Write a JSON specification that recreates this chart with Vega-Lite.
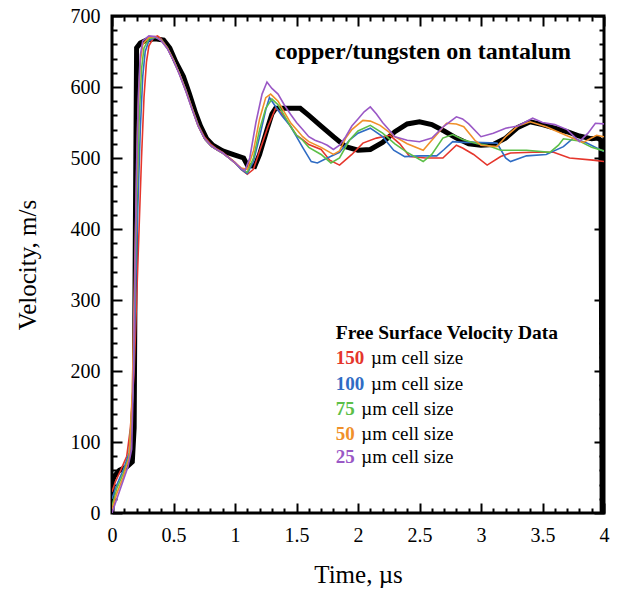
{
  "$schema": "https://vega.github.io/schema/vega-lite/v6.json",
  "width": 492,
  "height": 497,
  "autosize": "none",
  "padding": {"left": 112, "top": 16, "right": 13, "bottom": 78},
  "background": "white",
  "config": {
    "view": {"stroke": "black", "strokeWidth": 3},
    "font": "Liberation Serif"
  },
  "datasets": {
    "curves": [
      {"s":"exp","t":0,"v":0},{"s":"exp","t":0.003,"v":45},{"s":"exp","t":0.02,"v":52},{"s":"exp","t":0.06,"v":60},{"s":"exp","t":0.12,"v":65},{"s":"exp","t":0.165,"v":72},{"s":"exp","t":0.18,"v":120},{"s":"exp","t":0.19,"v":400},{"s":"exp","t":0.2,"v":655},{"s":"exp","t":0.23,"v":662},{"s":"exp","t":0.28,"v":666},{"s":"exp","t":0.35,"v":668},{"s":"exp","t":0.42,"v":666},{"s":"exp","t":0.47,"v":655},{"s":"exp","t":0.52,"v":635},{"s":"exp","t":0.58,"v":615},{"s":"exp","t":0.63,"v":590},{"s":"exp","t":0.68,"v":563},{"s":"exp","t":0.72,"v":545},{"s":"exp","t":0.77,"v":527},{"s":"exp","t":0.82,"v":518},{"s":"exp","t":0.9,"v":510},{"s":"exp","t":1.0,"v":504},{"s":"exp","t":1.07,"v":500},{"s":"exp","t":1.1,"v":490},{"s":"exp","t":1.16,"v":488},{"s":"exp","t":1.2,"v":505},{"s":"exp","t":1.26,"v":540},{"s":"exp","t":1.3,"v":562},{"s":"exp","t":1.33,"v":570},{"s":"exp","t":1.45,"v":570},{"s":"exp","t":1.53,"v":570},{"s":"exp","t":1.6,"v":560},{"s":"exp","t":1.7,"v":545},{"s":"exp","t":1.8,"v":530},{"s":"exp","t":1.9,"v":516},{"s":"exp","t":2.0,"v":511},{"s":"exp","t":2.1,"v":512},{"s":"exp","t":2.2,"v":522},{"s":"exp","t":2.3,"v":537},{"s":"exp","t":2.4,"v":548},{"s":"exp","t":2.5,"v":551},{"s":"exp","t":2.6,"v":547},{"s":"exp","t":2.7,"v":538},{"s":"exp","t":2.8,"v":528},{"s":"exp","t":2.9,"v":520},{"s":"exp","t":3.0,"v":518},{"s":"exp","t":3.1,"v":519},{"s":"exp","t":3.2,"v":528},{"s":"exp","t":3.3,"v":543},{"s":"exp","t":3.4,"v":551},{"s":"exp","t":3.5,"v":547},{"s":"exp","t":3.6,"v":542},{"s":"exp","t":3.7,"v":537},{"s":"exp","t":3.8,"v":531},{"s":"exp","t":3.9,"v":527},{"s":"exp","t":3.95,"v":528},{"s":"exp","t":3.975,"v":525},{"s":"exp","t":3.985,"v":0},

      {"s":"150","t":0,"v":30},{"s":"150","t":0.03,"v":45},{"s":"150","t":0.07,"v":60},{"s":"150","t":0.12,"v":80},{"s":"150","t":0.15,"v":120},{"s":"150","t":0.18,"v":200},{"s":"150","t":0.2,"v":300},{"s":"150","t":0.22,"v":400},{"s":"150","t":0.24,"v":500},{"s":"150","t":0.26,"v":585},{"s":"150","t":0.28,"v":635},{"s":"150","t":0.3,"v":658},{"s":"150","t":0.34,"v":670},{"s":"150","t":0.37,"v":672},{"s":"150","t":0.4,"v":668},{"s":"150","t":0.45,"v":655},{"s":"150","t":0.5,"v":638},{"s":"150","t":0.55,"v":618},{"s":"150","t":0.6,"v":596},{"s":"150","t":0.65,"v":571},{"s":"150","t":0.7,"v":547},{"s":"150","t":0.75,"v":530},{"s":"150","t":0.8,"v":520},{"s":"150","t":0.85,"v":513},{"s":"150","t":0.9,"v":508},{"s":"150","t":0.95,"v":501},{"s":"150","t":1.0,"v":494},{"s":"150","t":1.05,"v":484},{"s":"150","t":1.1,"v":477},{"s":"150","t":1.15,"v":484},{"s":"150","t":1.2,"v":510},{"s":"150","t":1.27,"v":545},{"s":"150","t":1.33,"v":570},{"s":"150","t":1.38,"v":563},{"s":"150","t":1.45,"v":545},{"s":"150","t":1.5,"v":532},{"s":"150","t":1.55,"v":526},{"s":"150","t":1.6,"v":519},{"s":"150","t":1.7,"v":512},{"s":"150","t":1.77,"v":497},{"s":"150","t":1.85,"v":490},{"s":"150","t":1.95,"v":505},{"s":"150","t":2.04,"v":521},{"s":"150","t":2.15,"v":528},{"s":"150","t":2.26,"v":532},{"s":"150","t":2.34,"v":520},{"s":"150","t":2.42,"v":502},{"s":"150","t":2.55,"v":500},{"s":"150","t":2.69,"v":500},{"s":"150","t":2.8,"v":518},{"s":"150","t":2.85,"v":514},{"s":"150","t":2.94,"v":505},{"s":"150","t":3.05,"v":490},{"s":"150","t":3.16,"v":502},{"s":"150","t":3.24,"v":507},{"s":"150","t":3.42,"v":508},{"s":"150","t":3.59,"v":508},{"s":"150","t":3.72,"v":500},{"s":"150","t":3.91,"v":497},{"s":"150","t":4.0,"v":495},

      {"s":"100","t":0,"v":20},{"s":"100","t":0.04,"v":40},{"s":"100","t":0.09,"v":60},{"s":"100","t":0.14,"v":85},{"s":"100","t":0.17,"v":170},{"s":"100","t":0.19,"v":300},{"s":"100","t":0.21,"v":430},{"s":"100","t":0.23,"v":540},{"s":"100","t":0.25,"v":615},{"s":"100","t":0.27,"v":650},{"s":"100","t":0.3,"v":665},{"s":"100","t":0.35,"v":670},{"s":"100","t":0.4,"v":667},{"s":"100","t":0.45,"v":655},{"s":"100","t":0.5,"v":638},{"s":"100","t":0.55,"v":618},{"s":"100","t":0.6,"v":596},{"s":"100","t":0.65,"v":570},{"s":"100","t":0.7,"v":546},{"s":"100","t":0.75,"v":528},{"s":"100","t":0.8,"v":518},{"s":"100","t":0.85,"v":512},{"s":"100","t":0.9,"v":507},{"s":"100","t":0.95,"v":500},{"s":"100","t":1.0,"v":493},{"s":"100","t":1.05,"v":484},{"s":"100","t":1.1,"v":478},{"s":"100","t":1.15,"v":495},{"s":"100","t":1.2,"v":530},{"s":"100","t":1.25,"v":568},{"s":"100","t":1.28,"v":585},{"s":"100","t":1.32,"v":575},{"s":"100","t":1.38,"v":560},{"s":"100","t":1.45,"v":545},{"s":"100","t":1.5,"v":530},{"s":"100","t":1.55,"v":515},{"s":"100","t":1.62,"v":495},{"s":"100","t":1.67,"v":493},{"s":"100","t":1.75,"v":500},{"s":"100","t":1.85,"v":508},{"s":"100","t":1.93,"v":525},{"s":"100","t":2.0,"v":535},{"s":"100","t":2.1,"v":542},{"s":"100","t":2.2,"v":530},{"s":"100","t":2.29,"v":511},{"s":"100","t":2.38,"v":502},{"s":"100","t":2.5,"v":503},{"s":"100","t":2.64,"v":503},{"s":"100","t":2.7,"v":512},{"s":"100","t":2.77,"v":523},{"s":"100","t":2.85,"v":522},{"s":"100","t":2.95,"v":522},{"s":"100","t":3.13,"v":521},{"s":"100","t":3.2,"v":500},{"s":"100","t":3.24,"v":495},{"s":"100","t":3.37,"v":503},{"s":"100","t":3.53,"v":505},{"s":"100","t":3.67,"v":516},{"s":"100","t":3.75,"v":528},{"s":"100","t":3.86,"v":521},{"s":"100","t":4.0,"v":509},

      {"s":"75","t":0,"v":10},{"s":"75","t":0.04,"v":35},{"s":"75","t":0.09,"v":55},{"s":"75","t":0.14,"v":80},{"s":"75","t":0.17,"v":170},{"s":"75","t":0.185,"v":300},{"s":"75","t":0.2,"v":430},{"s":"75","t":0.22,"v":550},{"s":"75","t":0.24,"v":625},{"s":"75","t":0.26,"v":655},{"s":"75","t":0.3,"v":668},{"s":"75","t":0.35,"v":670},{"s":"75","t":0.4,"v":666},{"s":"75","t":0.45,"v":655},{"s":"75","t":0.5,"v":638},{"s":"75","t":0.55,"v":618},{"s":"75","t":0.6,"v":595},{"s":"75","t":0.65,"v":570},{"s":"75","t":0.7,"v":546},{"s":"75","t":0.75,"v":528},{"s":"75","t":0.8,"v":518},{"s":"75","t":0.85,"v":512},{"s":"75","t":0.9,"v":507},{"s":"75","t":0.95,"v":500},{"s":"75","t":1.0,"v":493},{"s":"75","t":1.05,"v":485},{"s":"75","t":1.1,"v":480},{"s":"75","t":1.15,"v":500},{"s":"75","t":1.2,"v":540},{"s":"75","t":1.25,"v":570},{"s":"75","t":1.3,"v":583},{"s":"75","t":1.35,"v":575},{"s":"75","t":1.4,"v":560},{"s":"75","t":1.45,"v":545},{"s":"75","t":1.5,"v":532},{"s":"75","t":1.55,"v":525},{"s":"75","t":1.6,"v":515},{"s":"75","t":1.7,"v":505},{"s":"75","t":1.78,"v":493},{"s":"75","t":1.85,"v":500},{"s":"75","t":1.93,"v":525},{"s":"75","t":2.0,"v":538},{"s":"75","t":2.1,"v":546},{"s":"75","t":2.2,"v":535},{"s":"75","t":2.3,"v":520},{"s":"75","t":2.4,"v":508},{"s":"75","t":2.53,"v":495},{"s":"75","t":2.6,"v":505},{"s":"75","t":2.69,"v":528},{"s":"75","t":2.77,"v":533},{"s":"75","t":2.85,"v":526},{"s":"75","t":2.97,"v":520},{"s":"75","t":3.05,"v":518},{"s":"75","t":3.16,"v":511},{"s":"75","t":3.37,"v":511},{"s":"75","t":3.56,"v":508},{"s":"75","t":3.63,"v":518},{"s":"75","t":3.67,"v":527},{"s":"75","t":3.8,"v":524},{"s":"75","t":3.9,"v":515},{"s":"75","t":4.0,"v":510},

      {"s":"50","t":0,"v":5},{"s":"50","t":0.04,"v":28},{"s":"50","t":0.09,"v":50},{"s":"50","t":0.14,"v":78},{"s":"50","t":0.165,"v":170},{"s":"50","t":0.18,"v":300},{"s":"50","t":0.195,"v":430},{"s":"50","t":0.21,"v":560},{"s":"50","t":0.23,"v":635},{"s":"50","t":0.25,"v":660},{"s":"50","t":0.3,"v":670},{"s":"50","t":0.35,"v":671},{"s":"50","t":0.4,"v":666},{"s":"50","t":0.45,"v":655},{"s":"50","t":0.5,"v":638},{"s":"50","t":0.55,"v":618},{"s":"50","t":0.6,"v":595},{"s":"50","t":0.65,"v":570},{"s":"50","t":0.7,"v":545},{"s":"50","t":0.75,"v":528},{"s":"50","t":0.8,"v":518},{"s":"50","t":0.85,"v":512},{"s":"50","t":0.9,"v":507},{"s":"50","t":0.95,"v":500},{"s":"50","t":1.0,"v":493},{"s":"50","t":1.05,"v":486},{"s":"50","t":1.1,"v":484},{"s":"50","t":1.15,"v":510},{"s":"50","t":1.2,"v":555},{"s":"50","t":1.25,"v":585},{"s":"50","t":1.29,"v":590},{"s":"50","t":1.35,"v":580},{"s":"50","t":1.4,"v":565},{"s":"50","t":1.45,"v":550},{"s":"50","t":1.5,"v":540},{"s":"50","t":1.55,"v":530},{"s":"50","t":1.6,"v":523},{"s":"50","t":1.7,"v":515},{"s":"50","t":1.8,"v":505},{"s":"50","t":1.85,"v":510},{"s":"50","t":1.9,"v":528},{"s":"50","t":1.95,"v":540},{"s":"50","t":2.04,"v":553},{"s":"50","t":2.1,"v":552},{"s":"50","t":2.18,"v":546},{"s":"50","t":2.3,"v":530},{"s":"50","t":2.4,"v":520},{"s":"50","t":2.53,"v":511},{"s":"50","t":2.6,"v":525},{"s":"50","t":2.72,"v":549},{"s":"50","t":2.8,"v":548},{"s":"50","t":2.86,"v":544},{"s":"50","t":2.95,"v":525},{"s":"50","t":3.0,"v":518},{"s":"50","t":3.13,"v":516},{"s":"50","t":3.2,"v":530},{"s":"50","t":3.3,"v":545},{"s":"50","t":3.4,"v":551},{"s":"50","t":3.53,"v":544},{"s":"50","t":3.69,"v":532},{"s":"50","t":3.83,"v":522},{"s":"50","t":3.94,"v":532},{"s":"50","t":4.0,"v":530},

      {"s":"25","t":0,"v":0},{"s":"25","t":0.03,"v":15},{"s":"25","t":0.08,"v":40},{"s":"25","t":0.13,"v":65},{"s":"25","t":0.16,"v":90},{"s":"25","t":0.175,"v":200},{"s":"25","t":0.19,"v":380},{"s":"25","t":0.2,"v":490},{"s":"25","t":0.215,"v":590},{"s":"25","t":0.23,"v":645},{"s":"25","t":0.25,"v":665},{"s":"25","t":0.3,"v":672},{"s":"25","t":0.35,"v":671},{"s":"25","t":0.4,"v":665},{"s":"25","t":0.45,"v":654},{"s":"25","t":0.5,"v":637},{"s":"25","t":0.55,"v":617},{"s":"25","t":0.6,"v":594},{"s":"25","t":0.65,"v":569},{"s":"25","t":0.7,"v":545},{"s":"25","t":0.75,"v":528},{"s":"25","t":0.8,"v":518},{"s":"25","t":0.85,"v":512},{"s":"25","t":0.9,"v":507},{"s":"25","t":0.95,"v":500},{"s":"25","t":1.0,"v":493},{"s":"25","t":1.05,"v":485},{"s":"25","t":1.08,"v":482},{"s":"25","t":1.12,"v":500},{"s":"25","t":1.17,"v":550},{"s":"25","t":1.22,"v":590},{"s":"25","t":1.26,"v":607},{"s":"25","t":1.3,"v":598},{"s":"25","t":1.35,"v":590},{"s":"25","t":1.4,"v":575},{"s":"25","t":1.45,"v":562},{"s":"25","t":1.5,"v":550},{"s":"25","t":1.55,"v":540},{"s":"25","t":1.6,"v":530},{"s":"25","t":1.65,"v":525},{"s":"25","t":1.7,"v":522},{"s":"25","t":1.75,"v":518},{"s":"25","t":1.8,"v":512},{"s":"25","t":1.85,"v":518},{"s":"25","t":1.9,"v":530},{"s":"25","t":1.95,"v":545},{"s":"25","t":2.0,"v":555},{"s":"25","t":2.05,"v":565},{"s":"25","t":2.1,"v":572},{"s":"25","t":2.15,"v":562},{"s":"25","t":2.2,"v":550},{"s":"25","t":2.25,"v":540},{"s":"25","t":2.3,"v":530},{"s":"25","t":2.4,"v":525},{"s":"25","t":2.5,"v":523},{"s":"25","t":2.6,"v":528},{"s":"25","t":2.7,"v":545},{"s":"25","t":2.8,"v":558},{"s":"25","t":2.85,"v":555},{"s":"25","t":2.9,"v":548},{"s":"25","t":3.0,"v":530},{"s":"25","t":3.1,"v":535},{"s":"25","t":3.2,"v":542},{"s":"25","t":3.3,"v":545},{"s":"25","t":3.42,"v":556},{"s":"25","t":3.5,"v":550},{"s":"25","t":3.6,"v":547},{"s":"25","t":3.7,"v":540},{"s":"25","t":3.8,"v":523},{"s":"25","t":3.87,"v":535},{"s":"25","t":3.93,"v":549},{"s":"25","t":4.0,"v":548}
    ],
    "legend": [
      {"s":"150","t":1.82,"v":218,"num":"150","t2":2.106,"rest":"µm cell size"},
      {"s":"100","t":1.82,"v":182,"num":"100","t2":2.106,"rest":"µm cell size"},
      {"s":"75","t":1.82,"v":146,"num":"75","t2":2.026,"rest":"µm cell size"},
      {"s":"50","t":1.82,"v":111,"num":"50","t2":2.026,"rest":"µm cell size"},
      {"s":"25","t":1.82,"v":79,"num":"25","t2":2.026,"rest":"µm cell size"}
    ],
    "notes": [
      {"t":1.325,"v":649,"text":"copper/tungsten on tantalum","size":"big"},
      {"t":1.82,"v":253,"text":"Free Surface Velocity Data","size":"small"}
    ]
  },
  "layer": [
    {
      "data": {"name": "curves"},
      "transform": [{"filter": "datum.s == 'exp'"}],
      "mark": {"type": "line", "strokeWidth": 5, "clip": true, "strokeJoin": "miter"},
      "encoding": {
        "x": {"field": "t", "type": "quantitative", "scale": {"domain": [0, 4], "nice": false, "zero": false},
          "axis": {
            "orient": "bottom",
            "values": [0,0.1,0.2,0.3,0.4,0.5,0.6,0.7,0.8,0.9,1,1.1,1.2,1.3,1.4,1.5,1.6,1.7,1.8,1.9,2,2.1,2.2,2.3,2.4,2.5,2.6,2.7,2.8,2.9,3,3.1,3.2,3.3,3.4,3.5,3.6,3.7,3.8,3.9,4],
            "labelExpr": "abs(datum.value*2-round(datum.value*2))<0.001 ? '' + round(datum.value*2)/2 : ''",
            "tickSize": {"condition": {"test": "abs(datum.value*2-round(datum.value*2))<0.001", "value": -10}, "value": -5},
            "tickWidth": 2, "tickColor": "black", "domain": false, "grid": false,
            "labelFont": "Liberation Serif", "labelFontSize": 20, "labelColor": "black", "labelPadding": 22,
            "labelOverlap": false, "labelFlush": false, "labelBound": false,
            "title": "Time, µs", "titleFont": "Liberation Serif", "titleFontSize": 25, "titleFontWeight": "normal", "titleColor": "black", "titlePadding": 12
          }},
        "y": {"field": "v", "type": "quantitative", "scale": {"domain": [0, 700], "nice": false},
          "axis": {
            "orient": "left",
            "values": [0,20,40,60,80,100,120,140,160,180,200,220,240,260,280,300,320,340,360,380,400,420,440,460,480,500,520,540,560,580,600,620,640,660,680,700],
            "labelExpr": "datum.value % 100 == 0 ? '' + datum.value : ''",
            "tickSize": {"condition": {"test": "datum.value % 100 == 0", "value": -10}, "value": -5},
            "tickWidth": 2, "tickColor": "black", "domain": false, "grid": false,
            "labelFont": "Liberation Serif", "labelFontSize": 20, "labelColor": "black", "labelPadding": 22,
            "labelOverlap": false, "labelFlush": false, "labelBound": false,
            "title": "Velocity, m/s", "titleFont": "Liberation Serif", "titleFontSize": 25, "titleFontWeight": "normal", "titleColor": "black", "titlePadding": 30
          }},
        "color": {"field": "s", "type": "nominal", "legend": null,
          "scale": {"domain": ["exp","150","100","75","50","25"], "range": ["#000000","#e5362c","#2f6cc4","#5cbf48","#f0902a","#9a58c6"]}}
      }
    },
    {
      "data": {"name": "curves"},
      "transform": [{"filter": "datum.s != 'exp'"}],
      "mark": {"type": "line", "strokeWidth": 1.6, "clip": true},
      "encoding": {
        "x": {"field": "t", "type": "quantitative",
          "axis": {
            "orient": "top",
            "values": [0,0.1,0.2,0.3,0.4,0.5,0.6,0.7,0.8,0.9,1,1.1,1.2,1.3,1.4,1.5,1.6,1.7,1.8,1.9,2,2.1,2.2,2.3,2.4,2.5,2.6,2.7,2.8,2.9,3,3.1,3.2,3.3,3.4,3.5,3.6,3.7,3.8,3.9,4],
            "labels": false, "title": null, "domain": false, "grid": false,
            "tickSize": {"condition": {"test": "abs(datum.value*2-round(datum.value*2))<0.001", "value": -10}, "value": -5},
            "tickWidth": 2, "tickColor": "black"
          }},
        "y": {"field": "v", "type": "quantitative",
          "axis": {
            "orient": "right",
            "values": [0,20,40,60,80,100,120,140,160,180,200,220,240,260,280,300,320,340,360,380,400,420,440,460,480,500,520,540,560,580,600,620,640,660,680,700],
            "labels": false, "title": null, "domain": false, "grid": false,
            "tickSize": {"condition": {"test": "datum.value % 100 == 0", "value": -10}, "value": -5},
            "tickWidth": 2, "tickColor": "black"
          }},
        "color": {"field": "s", "type": "nominal", "legend": null}
      }
    },
    {
      "data": {"name": "notes"},
      "mark": {"type": "text", "align": "left", "baseline": "middle", "fontWeight": "bold", "font": "Liberation Serif", "color": "black"},
      "encoding": {
        "x": {"field": "t", "type": "quantitative", "axis": null},
        "y": {"field": "v", "type": "quantitative", "axis": null},
        "text": {"field": "text"},
        "size": {"field": "size", "type": "nominal", "legend": null, "scale": {"domain": ["big","small"], "range": [24, 19.5]}}
      }
    },
    {
      "data": {"name": "legend"},
      "mark": {"type": "text", "align": "left", "baseline": "middle", "fontWeight": "bold", "font": "Liberation Serif", "fontSize": 19},
      "encoding": {
        "x": {"field": "t", "type": "quantitative", "axis": null},
        "y": {"field": "v", "type": "quantitative", "axis": null},
        "text": {"field": "num"},
        "color": {"field": "s", "type": "nominal", "legend": null}
      }
    },
    {
      "data": {"name": "legend"},
      "mark": {"type": "text", "align": "left", "baseline": "middle", "font": "Liberation Serif", "fontSize": 19, "color": "black"},
      "encoding": {
        "x": {"field": "t2", "type": "quantitative", "axis": null},
        "y": {"field": "v", "type": "quantitative", "axis": null},
        "text": {"field": "rest"}
      }
    }
  ],
  "resolve": {"axis": {"x": "independent", "y": "independent"}}
}
